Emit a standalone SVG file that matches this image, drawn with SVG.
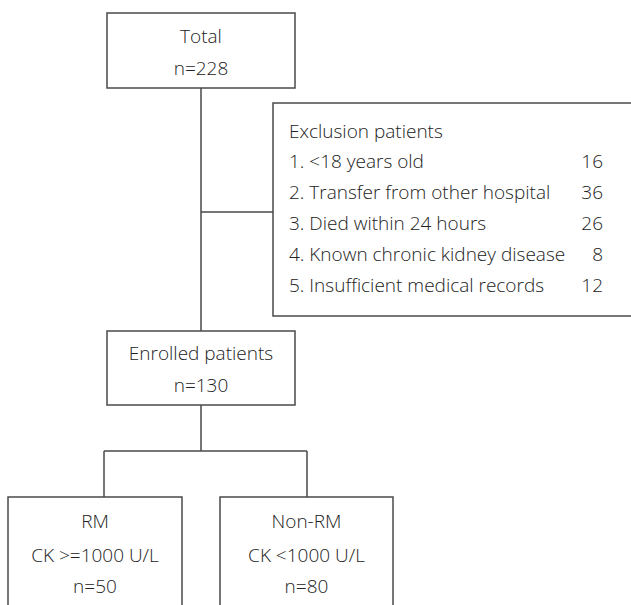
<svg xmlns="http://www.w3.org/2000/svg" width="631" height="605" viewBox="0 0 631 605">
<style>
.box{fill:#fff;stroke:#4a4a4a;stroke-width:1.5}
.ln{fill:none;stroke:#4a4a4a;stroke-width:1.5}
text{font-family:"Open Sans","Noto Sans","Liberation Sans",sans-serif;font-size:19px;font-weight:300;fill:#222}
.c{text-anchor:middle}
.r{text-anchor:end}
</style>
<rect width="631" height="605" fill="#fff"/>
<g id="connectors">
<path class="ln" d="M201,88 V331 M201,212 H273 M201,405 V451 M104,451 H307 M104,451 V497 M307,451 V497"/>
</g>
<g id="total">
<rect class="box" x="107" y="13" width="188" height="75"/>
<text class="c" x="201" y="43">Total</text>
<text class="c" x="201" y="75">n=228</text>
</g>
<g id="exclusion">
<rect class="box" x="273" y="103" width="380" height="213"/>
<text x="289" y="138">Exclusion patients</text>
<text x="289" y="168">1. &lt;18 years old</text>
<text x="289" y="199">2. Transfer from other hospital</text>
<text x="289" y="230">3. Died within 24 hours</text>
<text x="289" y="261">4. Known chronic kidney disease</text>
<text x="289" y="292">5. Insufficient medical records</text>
<text class="r" x="603" y="168">16</text>
<text class="r" x="603" y="199">36</text>
<text class="r" x="603" y="230">26</text>
<text class="r" x="603" y="261">8</text>
<text class="r" x="603" y="292">12</text>
</g>
<g id="enrolled">
<rect class="box" x="107" y="331" width="188" height="74"/>
<text class="c" x="201" y="360">Enrolled patients</text>
<text class="c" x="201" y="392">n=130</text>
</g>
<g id="rm">
<rect class="box" x="8" y="497" width="174" height="120"/>
<text class="c" x="95" y="528">RM</text>
<text class="c" x="95" y="562">CK &gt;=1000 U/L</text>
<text class="c" x="95" y="593">n=50</text>
</g>
<g id="nonrm">
<rect class="box" x="220" y="497" width="173" height="120"/>
<text class="c" x="306.5" y="528">Non-RM</text>
<text class="c" x="306.5" y="562">CK &lt;1000 U/L</text>
<text class="c" x="306.5" y="593">n=80</text>
</g>
</svg>
